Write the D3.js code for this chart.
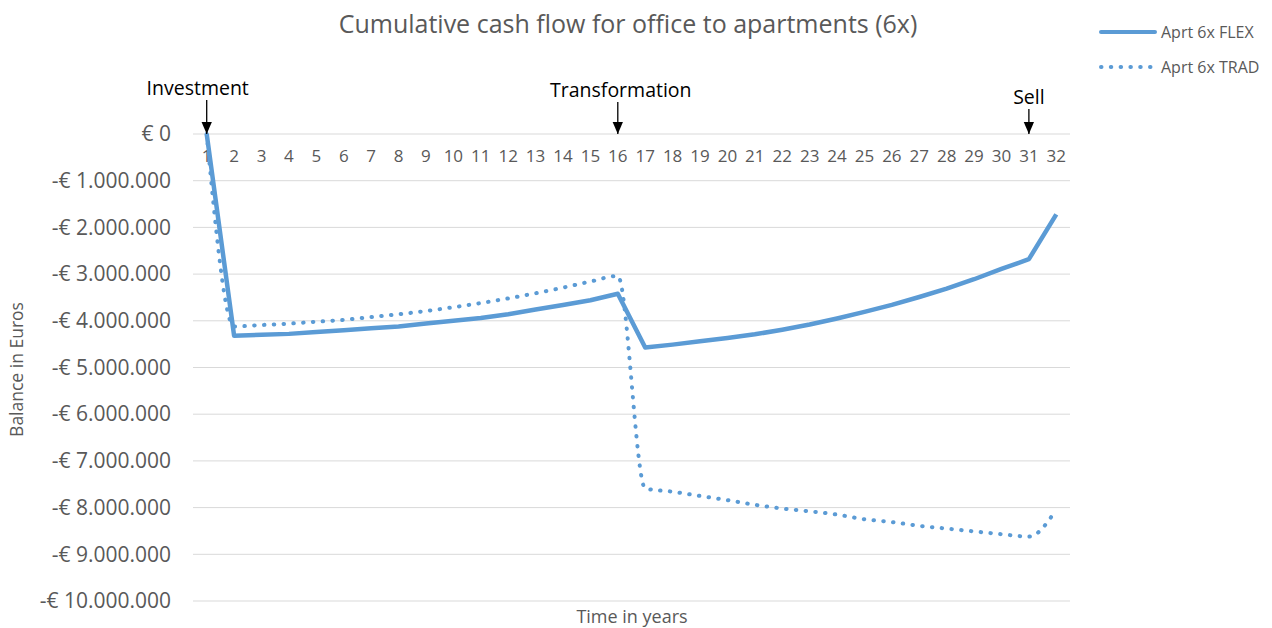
<!DOCTYPE html>
<html>
<head>
<meta charset="utf-8">
<script src="https://cdn.jsdelivr.net/npm/d3@7"></script>
<style>
  body { margin: 0; background: #fff; }
  svg { display: block; font-family: 'Open Sans', sans-serif; }
</style>
</head>
<body>
<div id="chart"></div>
<script>
// years on the category axis
const years = d3.range(1, 33);

// cumulative balance in euros
const flex = [
  0, -4320000, -4300000, -4280000, -4240000, -4200000, -4160000, -4120000,
  -4060000, -4000000, -3940000, -3860000, -3760000, -3660000, -3560000, -3420000,
  -4570000, -4510000, -4440000, -4370000, -4290000, -4190000, -4080000, -3950000,
  -3810000, -3660000, -3490000, -3310000, -3110000, -2890000, -2680000, -1720000
];
const trad = [
  0, -4120000, -4090000, -4060000, -4020000, -3980000, -3920000, -3860000,
  -3790000, -3710000, -3620000, -3520000, -3410000, -3290000, -3160000, -3040000,
  -7590000, -7660000, -7750000, -7840000, -7940000, -8020000, -8080000, -8150000,
  -8250000, -8310000, -8390000, -8450000, -8510000, -8570000, -8620000, -8040000
];
const yTicks = d3.range(0, -10000001, -1000000);
const notes = [
  { year: 1, label: 'Investment', top: 100, shift: -9 },
  { year: 16, label: 'Transformation', top: 102, shift: 3 },
  { year: 31, label: 'Sell', top: 109, shift: 0 }
];
const series = [
  { name: 'Aprt 6x FLEX', values: flex, dotted: false },
  { name: 'Aprt 6x TRAD', values: trad, dotted: true }
];

const W = 1272, H = 628;
const margin = { top: 134, right: 202, bottom: 27, left: 193 };
const color = '#5b9bd5';
const grey = '#595959';

const svg = d3.select('#chart').append('svg')
  .attr('width', W).attr('height', H);

const x = d3.scaleBand(years, [margin.left, W - margin.right]);
const y = d3.scaleLinear([-10000000, 0], [H - margin.bottom, margin.top]);
const fmt = v => v === 0 ? '€ 0' : '-€ ' + d3.format(',')(-v).replace(/,/g, '.');

// gridlines
svg.append('g')
  .selectAll('line').data(yTicks).join('line')
  .attr('x1', margin.left).attr('x2', W - margin.right)
  .attr('y1', d => y(d)).attr('y2', d => y(d))
  .attr('stroke', '#d9d9d9').attr('stroke-width', 1);

// y axis labels
const yAxis = svg.append('g')
  .attr('transform', `translate(${margin.left},0)`)
  .call(d3.axisLeft(y).tickValues(yTicks).tickFormat(fmt).tickSize(0).tickPadding(22));
yAxis.select('.domain').remove();
yAxis.selectAll('text')
  .attr('font-size', 21).attr('fill', grey).attr('font-family', 'Open Sans');

// x axis labels sit just below the zero line
const xAxis = svg.append('g')
  .attr('transform', `translate(0,${y(0)})`)
  .call(d3.axisBottom(x).tickSize(0).tickPadding(16));
xAxis.select('.domain').remove();
xAxis.selectAll('text')
  .attr('font-size', 17).attr('fill', grey).attr('font-family', 'Open Sans');

// lines
const cx = d => x(d) + x.bandwidth() / 2;
const straight = d3.line().x((d, i) => cx(years[i])).y(d => y(d));
const smooth = d3.line().x((d, i) => cx(years[i])).y(d => y(d)).curve(d3.curveMonotoneX);

series.forEach(s => {
  svg.append('path')
    .attr('d', (s.dotted ? smooth : straight)(s.values))
    .attr('fill', 'none')
    .attr('stroke', color)
    .attr('stroke-width', s.dotted ? 4 : 4.5)
    .attr('stroke-linejoin', 'round')
    .attr('stroke-linecap', s.dotted ? 'round' : 'butt')
    .attr('stroke-dasharray', s.dotted ? '0.5 9.3' : null);
});

// annotations with arrows
svg.append('defs').append('marker')
  .attr('id', 'arrow').attr('viewBox', '0 0 12 14')
  .attr('refX', 14).attr('refY', 6)
  .attr('markerWidth', 14).attr('markerHeight', 12)
  .attr('markerUnits', 'userSpaceOnUse')
  .attr('orient', 'auto')
  .append('path').attr('d', 'M0,0 L14,6 L0,12 Z').attr('fill', '#000');

notes.forEach(n => {
  const px = cx(n.year);
  svg.append('line')
    .attr('x1', px).attr('x2', px)
    .attr('y1', n.top).attr('y2', y(0))
    .attr('stroke', '#000').attr('stroke-width', 1.3)
    .attr('marker-end', 'url(#arrow)');
  svg.append('text')
    .attr('x', px + n.shift).attr('y', n.top - 5)
    .attr('text-anchor', 'middle')
    .attr('font-size', 19.5).attr('fill', '#000')
    .text(n.label);
});

// title
svg.append('text')
  .attr('x', 628).attr('y', 33)
  .attr('text-anchor', 'middle')
  .attr('font-size', 25).attr('fill', grey)
  .text('Cumulative cash flow for office to apartments (6x)');

// axis titles
svg.append('text')
  .attr('transform', `translate(23,${(y(0) + y(-10000000)) / 2 + 2}) rotate(-90)`)
  .attr('text-anchor', 'middle')
  .attr('font-size', 17.5).attr('fill', grey)
  .text('Balance in Euros');

svg.append('text')
  .attr('x', 632).attr('y', 623)
  .attr('text-anchor', 'middle')
  .attr('font-size', 18).attr('fill', grey)
  .text('Time in years');

// legend
const legend = svg.append('g').attr('transform', 'translate(1101,32)');
series.forEach((s, i) => {
  const g = legend.append('g').attr('transform', `translate(0,${i * 35})`);
  g.append('line')
    .attr('x1', 0).attr('x2', 54).attr('y1', 0).attr('y2', 0)
    .attr('stroke', color)
    .attr('stroke-width', 4)
    .attr('stroke-linecap', 'round')
    .attr('stroke-dasharray', s.dotted ? '0.5 9.3' : null);
  g.append('text')
    .attr('x', 60).attr('y', 5.5)
    .attr('font-size', 16).attr('fill', grey)
    .text(s.name);
});
</script>
</body>
</html>
